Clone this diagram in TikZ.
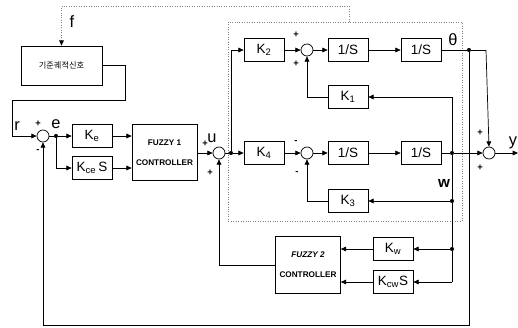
\documentclass[tikz,border=0pt]{standalone}
\usepackage{fontspec}
\setmainfont{Liberation Sans}
\newfontfamily\krfont{Noto Sans CJK KR}
\usetikzlibrary{arrows.meta,positioning,calc}

\begin{document}
\begin{tikzpicture}[x=0.03cm, y=-0.03cm, line width=0.6pt,
  blk/.style={draw, minimum width=1.2cm, minimum height=0.7cm, inner sep=0pt, font=\fontsize{11.5}{12}\selectfont},
  fzblk/.style={draw, minimum width=1.95cm, minimum height=1.7cm, align=center, font=\fontsize{7}{17}\selectfont\bfseries},
  sumnode/.style={draw, circle, minimum size=0.36cm, inner sep=0pt},
  jdot/.style={circle, fill, minimum size=3.5pt, inner sep=0pt},
  arr/.style={-{Triangle[length=4.5pt,width=4pt,color=black]}},
  lbl/.style={font=\fontsize{14}{14}\selectfont, inner sep=0pt},
  sgn/.style={font=\fontsize{8}{8}\selectfont\bfseries, inner sep=0pt},
  dots/.style={draw=gray, line width=0.7pt, dash pattern=on 0.7pt off 1.4pt}]
  \useasboundingbox (0,0) rectangle (518,328);

  % plant (dotted box)
  \draw[dots] (228,22) rectangle (462,221);

  % reference generator
  \node[draw, minimum width=2.43cm, minimum height=1.17cm, font=\fontsize{7}{7}\krfont] (ref) at (61.5,65.5) {기준궤적신호};
  \draw[dots, arr] (349,22) -- (349,6) -| (ref.north);

  % input side
  \node[sumnode] (sumA) at (43,136) {};
  \node[jdot] (edot) at (56,136) {};
  \node[blk] (ke) at (92,136) {K\textsubscript{e}};
  \node[blk] (kce) at (92,168) {K\textsubscript{ce}\,S};
  \node[fzblk] (fz1) at (164.5,152.5) {FUZZY 1\\CONTROLLER};
  \node[sumnode] (sumU) at (219,153) {};
  \node[jdot] (udot) at (231,153) {};

  % upper loop
  \node[blk] (k2) at (264,50) {K\textsubscript{2}};
  \node[sumnode] (sumB) at (307,50) {};
  \node[blk] (int1) at (348,50) {1/S};
  \node[blk] (int2) at (421,50) {1/S};
  \node[blk] (k1) at (348,97) {K\textsubscript{1}};
  \node[jdot] (thdot) at (469,50) {};
  \coordinate (thc) at (486,50);

  % lower loop
  \node[blk] (k4) at (264,153) {K\textsubscript{4}};
  \node[sumnode] (sumC) at (307,153) {};
  \node[blk] (int3) at (348,153) {1/S};
  \node[blk] (int4) at (421,153) {1/S};
  \node[blk] (k3) at (348,201) {K\textsubscript{3}};
  \node[jdot] (wdot1) at (452,153) {};
  \node[jdot] (wdot2) at (452,201) {};
  \node[jdot] (wdot3) at (452,249) {};
  \coordinate (wend) at (452,282);

  % output sum
  \node[sumnode] (sumY) at (489,153) {};
  \coordinate (yout) at (518,153);

  % second controller
  \node[blk] (kw) at (393,249) {K\textsubscript{w}};
  \node[blk] (kcw) at (393,282) {K\textsubscript{cw}S};
  \node[fzblk] (fz2) at (308,265) {\itshape FUZZY 2\\CONTROLLER};
  \coordinate (bot) at (0,325);

  % connections
  \draw[arr] (ref.east) -| (125,100) -| (12,136) -- (sumA.west);
  \draw (sumA.east) -- (edot);
  \draw[arr] (edot) -- (ke.west);
  \draw[arr] (edot) |- (kce.west);
  \draw[arr] (ke.east) -- (ke.east -| fz1.west);
  \draw[arr] (kce.east) -- (kce.east -| fz1.west);
  \draw[arr] (fz1.east |- sumU) -- (sumU.west);
  \draw (sumU.east) -- (udot);
  \draw[arr] (udot) -- (k4.west);
  \draw[arr] (udot) |- (k2.west);
  \draw[arr] (k2.east) -- (sumB.west);
  \draw[arr] (sumB.east) -- (int1.west);
  \draw[arr] (int1.east) -- (int2.west);
  \draw (int2.east) -- (thdot) -- (thc);
  \draw[arr] (thc) -- (sumY.north);
  \draw[arr] (k1.west) -| (sumB.south);
  \draw[arr] (k4.east) -- (sumC.west);
  \draw[arr] (sumC.east) -- (int3.west);
  \draw[arr] (int3.east) -- (int4.west);
  \draw (int4.east) -- (wdot1);
  \draw[arr] (wdot1) -- (sumY.west);
  \draw[arr] (wdot1) |- (k1.east);
  \draw (wdot1) -- (wdot2) -- (wdot3) -- (wend);
  \draw[arr] (wdot2) -- (k3.east);
  \draw[arr] (k3.west) -| (sumC.south);
  \draw[arr] (wdot3) -- (kw.east);
  \draw[arr] (wend) -- (kcw.east);
  \draw[arr] (kw.west) -- (kw.west -| fz2.east);
  \draw[arr] (kcw.west) -- (kcw.west -| fz2.east);
  \draw[arr] (fz2.west) -| (sumU.south);
  \draw[arr] (sumY.east) -- (yout);
  \draw[arr] (thdot) -- (thdot |- bot) -| (sumA.south);

  % labels
  \node[lbl] (lf) at (72,22) {f};
  \node[lbl] (lr) at (17,126) {r};
  \node[lbl] (le) at (56,124) {e};
  \node[lbl] (lu) at (212,138) {u};
  \node[lbl] (lth) at (453,40) {θ};
  \node[lbl, font=\fontsize{13}{13}\selectfont\bfseries] (lw) at (444,183) {w};
  \node[lbl] (ly) at (513,143) {y};
  \node[sgn] at (38,124) {+};
  \node[sgn] at (38,151) {-};
  \node[sgn] at (205,144) {+};
  \node[sgn] at (210,173) {+};
  \node[sgn] at (296,35) {+};
  \node[sgn] at (296,64) {+};
  \node[sgn] at (296,142) {-};
  \node[sgn] at (297,173) {-};
  \node[sgn] at (480,133) {+};
  \node[sgn] at (480,168) {+};
\end{tikzpicture}
\end{document}
